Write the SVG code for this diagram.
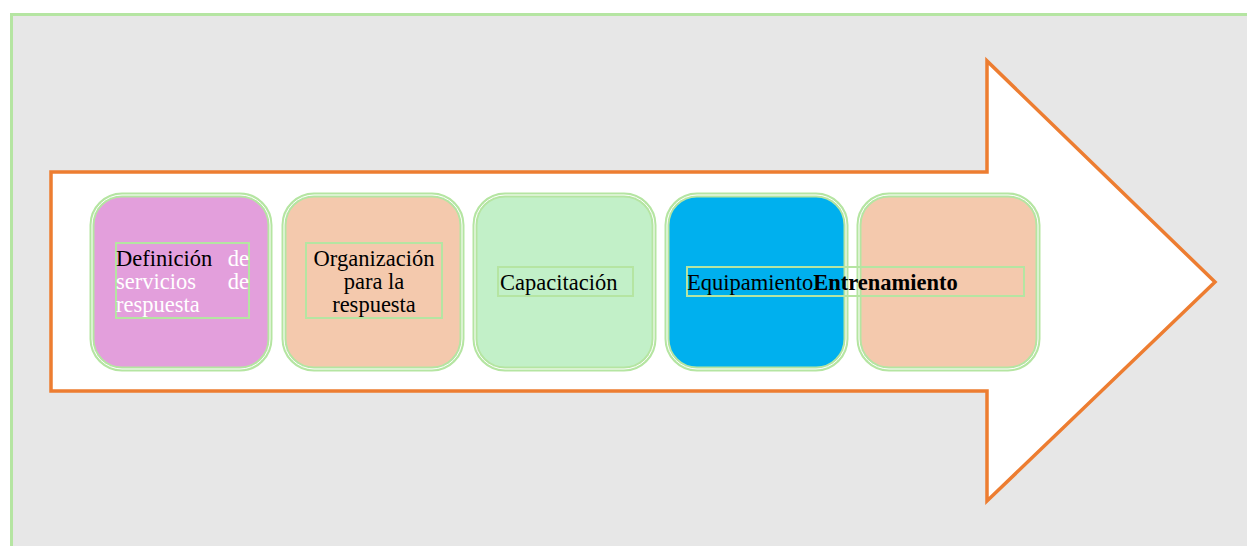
<svg xmlns="http://www.w3.org/2000/svg" width="1247" height="546" viewBox="0 0 1247 546">
<style>
.bx{stroke:#B5E5A2;stroke-width:5}
.in{fill:none;stroke:#ffffff;stroke-width:1}
.tb{fill:none;stroke:#B5E5A2;stroke-width:2}
text{font-family:"Liberation Serif","Times New Roman",serif;font-size:22.5px;fill:#000}
</style>
<rect x="0" y="0" width="1247" height="546" fill="#ffffff"/>
<rect x="11.5" y="14.5" width="1250" height="540" fill="#E7E7E7" stroke="#B5E5A2" stroke-width="3"/>
<g id="arrow">
<polygon points="51,172 987,172 987,61 1215,282 987,501 987,391 51,391" fill="#ffffff" stroke="#ED7D31" stroke-width="3.5"/>
</g>
<g id="node1">
<rect class="bx" x="92" y="195" width="178" height="174" rx="30" fill="#E39FDC"/>
<rect class="in" x="92" y="195" width="178" height="174" rx="30"/>
<rect class="tb" x="116" y="243" width="133" height="75"/>
<text x="116" y="266">Definición</text>
<text x="249" y="266" text-anchor="end" style="fill:#fff">de</text>
<text x="116" y="289" style="fill:#fff">servicios</text>
<text x="249" y="289" text-anchor="end" style="fill:#fff">de</text>
<text x="116" y="312" style="fill:#fff">respuesta</text>
</g>
<g id="node2">
<rect class="bx" x="284" y="195" width="178" height="174" rx="30" fill="#F4C9AD"/>
<rect class="in" x="284" y="195" width="178" height="174" rx="30"/>
<rect class="tb" x="306" y="243" width="136" height="75"/>
<text x="374" y="266" text-anchor="middle">Organización</text>
<text x="374" y="289" text-anchor="middle">para la</text>
<text x="374" y="312" text-anchor="middle">respuesta</text>
</g>
<g id="node3">
<rect class="bx" x="475" y="195" width="179" height="174" rx="30" fill="#C2F0C8"/>
<rect class="in" x="475" y="195" width="179" height="174" rx="30"/>
<rect class="tb" x="498" y="267" width="135" height="29"/>
<text x="500" y="290">Capacitación</text>
</g>
<g id="node4">
<rect class="bx" x="667" y="195" width="179" height="174" rx="30" fill="#00B0EE"/>
<rect class="in" x="667" y="195" width="179" height="174" rx="30"/>
</g>
<g id="node5">
<rect class="bx" x="859" y="195" width="179" height="174" rx="30" fill="#F4C9AD"/>
<rect class="in" x="859" y="195" width="179" height="174" rx="30"/>
</g>
<g id="label4">
<rect class="tb" x="687" y="267" width="337" height="29"/>
<text x="687" y="290">Equipamiento<tspan font-weight="bold">Entrenamiento</tspan></text>
</g>
</svg>
